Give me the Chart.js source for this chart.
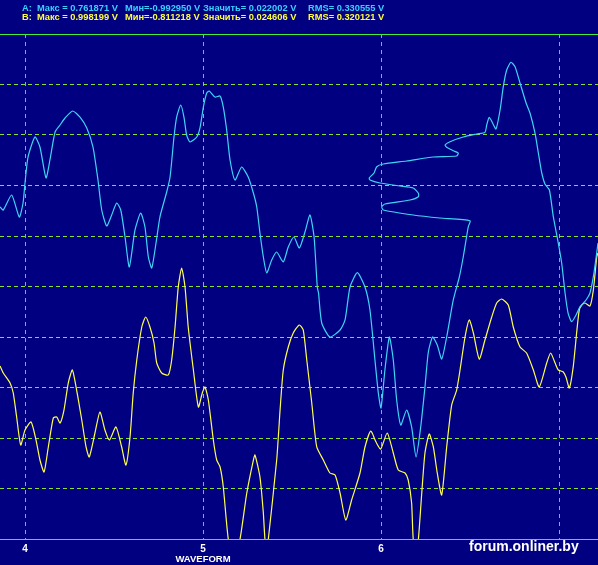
<!DOCTYPE html>
<html><head><meta charset="utf-8">
<script src="https://cdn.jsdelivr.net/npm/chart.js@4"></script>
<style>html,body{margin:0;padding:0;background:#000080;overflow:hidden}#wrap{width:598px;height:565px;position:relative}</style>
</head><body><div id="wrap"><canvas id="c"></canvas></div>
<script>
// ---- data ----
const xTickValues = [4, 5, 6, 7];
const xTickLabels = ['4', '5', '6', ''];
const headerA = ['A:', 'Макс = 0.761871 V', 'Мин=-0.992950 V', 'Значить= 0.022002 V', 'RMS= 0.330555 V'];
const headerB = ['B:', 'Макс = 0.998199 V', 'Мин=-0.811218 V', 'Значить= 0.024606 V', 'RMS= 0.320121 V'];
const axisName = 'WAVEFORM';
const watermark = 'forum.onliner.by';

// channel A (time, divisions)
const seriesAX = [3.860,3.878,3.925,3.968,3.989,4.000,4.017,4.056,4.084,4.118,4.140,4.169,4.197,4.225,4.268,4.309,4.347,4.382,4.410,4.431,
4.459,4.487,4.515,4.538,4.562,4.586,4.618,4.650,4.674,4.693,4.712,4.736,4.758,4.796,4.815,4.837,4.852,4.875,4.893,4.908,
4.927,4.965,4.983,5.002,5.021,5.035,5.067,5.096,5.114,5.133,5.152,5.180,5.217,5.254,5.283,5.302,5.320,5.339,5.358,5.386,
5.414,5.451,5.479,5.511,5.541,5.573,5.601,5.624,5.642,5.649,5.667,5.713,5.770,5.798,5.826,5.867,5.910,5.938,5.966,5.985,
6.000,6.022,6.047,6.069,6.088,6.111,6.144,6.172,6.197,6.223,6.247,6.266,6.290,6.316,6.341,6.369,6.406,6.440,6.462,6.490,
6.500,6.331,6.181,6.013,6.004,6.022,6.163,6.210,6.210,6.181,6.107,5.994,5.938,5.934,5.961,5.976,6.013,6.144,6.294,6.425,
6.434,6.406,6.369,6.360,6.388,6.462,6.538,6.584,6.594,6.608,6.627,6.646,6.669,6.687,6.706,6.730,6.753,6.781,6.815,6.837,
6.865,6.884,6.903,6.921,6.946,6.968,6.996,7.015,7.034,7.051,7.071,7.096,7.118,7.152,7.174,7.193,7.208,7.219];
const seriesAY = [1.574,1.515,1.812,1.376,1.653,2.050,2.564,2.960,2.762,2.149,2.505,3.059,3.198,3.337,3.475,3.356,3.139,2.762,2.109,1.515,
1.198,1.416,1.653,1.515,0.980,0.386,1.119,1.455,1.178,0.584,0.366,0.861,1.376,1.871,2.168,2.960,3.356,3.594,3.356,3.000,
2.861,2.960,3.139,3.554,3.832,3.871,3.752,3.772,3.554,3.099,2.505,2.109,2.366,2.168,1.851,1.574,1.059,0.584,0.267,0.525,
0.683,0.485,0.782,0.980,0.762,1.079,1.416,0.980,-0.010,-0.129,-0.723,-1.000,-0.861,-0.663,-0.010,0.273,-0.010,-0.465,-1.455,-2.109,
-2.406,-1.653,-1.000,-1.455,-2.248,-2.743,-2.446,-2.782,-3.376,-2.782,-1.990,-1.297,-1.000,-1.158,-1.436,-1.000,-0.267,0.188,0.584,1.178,
1.303,1.356,1.416,1.515,1.580,1.634,1.713,1.778,1.846,1.950,1.990,2.050,2.109,2.149,2.248,2.372,2.426,2.485,2.564,2.584,
2.644,2.689,2.756,2.802,2.867,2.960,3.020,3.053,3.198,3.350,3.238,3.119,3.495,3.956,4.287,4.440,4.352,4.030,3.634,3.436,
3.040,2.644,2.248,2.030,1.911,1.382,0.861,0.465,-0.129,-0.525,-0.697,-0.564,-0.400,-0.267,-0.129,0.194,0.564,0.861];

// channel B (time, divisions)
const seriesBX = [3.860,3.878,3.916,3.934,3.953,3.976,4.000,4.034,4.062,4.084,4.107,4.131,4.159,4.178,4.197,4.219,4.243,4.266,4.290,4.319,
4.343,4.361,4.393,4.421,4.449,4.474,4.511,4.543,4.567,4.590,4.608,4.628,4.656,4.678,4.702,4.725,4.740,4.768,4.805,4.824,
4.843,4.861,4.880,4.899,4.917,4.946,4.974,4.996,5.011,5.030,5.058,5.077,5.096,5.114,5.142,5.174,5.208,5.246,5.283,5.292,
5.320,5.339,5.348,5.358,5.367,5.414,5.433,5.451,5.479,5.507,5.541,5.563,5.583,5.611,5.639,5.676,5.713,5.742,5.770,5.802,
5.835,5.882,5.910,5.942,5.972,5.998,6.035,6.069,6.097,6.135,6.153,6.172,6.181,6.197,6.210,6.229,6.247,6.271,6.294,6.316,
6.341,6.369,6.397,6.425,6.444,6.472,6.496,6.519,6.552,6.584,6.622,6.650,6.678,6.715,6.743,6.781,6.818,6.856,6.889,6.931,
6.953,6.978,6.996,7.024,7.039,7.058,7.080,7.099,7.114,7.129,7.146,7.174,7.193,7.212,7.219];
const seriesBY = [-1.574,-1.713,-1.911,-2.109,-2.584,-3.139,-2.842,-2.683,-3.040,-3.436,-3.673,-3.178,-2.604,-2.584,-2.703,-2.446,-1.911,-1.653,-2.050,-2.644,
-3.178,-3.376,-2.901,-2.485,-2.842,-3.040,-2.782,-3.178,-3.535,-2.980,-2.109,-1.455,-0.802,-0.604,-0.802,-1.119,-1.515,-1.713,-1.752,-1.455,
-0.802,-0.010,0.366,-0.010,-0.802,-1.653,-2.386,-2.109,-1.990,-2.248,-3.040,-3.436,-3.574,-3.970,-5.000,-5.416,-5.000,-4.089,-3.436,-3.337,
-3.772,-4.485,-5.000,-5.178,-5.000,-3.436,-2.446,-1.653,-1.198,-0.921,-0.762,-0.861,-1.455,-2.307,-3.178,-3.436,-3.693,-3.733,-4.089,-4.624,
-4.228,-3.693,-3.178,-2.861,-3.079,-3.218,-2.901,-3.297,-3.634,-3.693,-3.832,-4.287,-5.000,-5.218,-5.000,-4.089,-3.297,-2.921,-3.178,-3.693,
-4.129,-3.178,-2.347,-2.050,-1.653,-1.000,-0.663,-0.921,-1.436,-1.059,-0.604,-0.327,-0.248,-0.366,-0.802,-1.198,-1.317,-1.653,-1.990,-1.515,
-1.317,-1.515,-1.653,-1.693,-1.792,-2.010,-1.588,-0.921,-0.465,-0.366,-0.327,-0.386,-0.069,0.584,0.663];

const xMin = 4 - 25 / 178, xMax = 4 + 573 / 178;
const yMin = -5, yMax = 5;

const toPts = (xs, ys) => xs.map((x, i) => ({x, y: ys[i]}));

const BG = '#000080';
const GRID_H = '#86e03a';
const GRID_V = '#4fe03a';
const EDGE = '#3cf03c';

const overlay = {
  id: 'overlay',
  beforeDraw(chart) {
    const c = chart.ctx;
    c.save(); c.fillStyle = BG; c.fillRect(0, 0, chart.width, chart.height); c.restore();
  },
  afterDraw(chart) {
    const c = chart.ctx;
    c.save();
    c.textBaseline = 'alphabetic';
    c.font = 'bold 9.3px "Liberation Sans", Arial, sans-serif';
    const xs = [22, 37, 125, 203, 308];
    c.fillStyle = '#38d0ff';
    headerA.forEach((t, i) => c.fillText(t, xs[i], 10.5));
    c.fillStyle = '#ffff40';
    headerB.forEach((t, i) => c.fillText(t, xs[i], 19.5));
    c.fillStyle = '#ffffff';
    c.font = 'bold 9.5px "Liberation Sans", Arial, sans-serif';
    c.textAlign = 'center';
    c.fillText(axisName, 203, 562);
    c.textAlign = 'left';
    c.font = 'bold 14px "Liberation Sans", Arial, sans-serif';
    c.fillText(watermark, 469, 551);
    c.restore();
  }
};

new Chart(document.getElementById('c'), {
  type: 'line',
  data: {
    datasets: [
      {label: 'A', data: toPts(seriesAX, seriesAY), borderColor: '#40d4f4', borderWidth: 1.2, pointRadius: 0, tension: 0.2, fill: false},
      {label: 'B', data: toPts(seriesBX, seriesBY), borderColor: '#ffff50', borderWidth: 1.2, pointRadius: 0, tension: 0.2, fill: false}
    ]
  },
  options: {
    responsive: true, maintainAspectRatio: false, animation: false,
    layout: {padding: {top: 34, left: 0, right: 0, bottom: 6}},
    plugins: {legend: {display: false}, tooltip: {enabled: false}, title: {display: false}},
    scales: {
      x: {
        type: 'linear', min: xMin, max: xMax,
        afterBuildTicks: s => { s.ticks = xTickValues.map(v => ({value: v})); },
        ticks: {color: '#ffffff', font: {family: '"Liberation Sans", Arial, sans-serif', size: 10, weight: 'bold'}, padding: 4, maxRotation: 0, autoSkip: false,
          callback: (v) => { const i = xTickValues.indexOf(v); return i >= 0 ? xTickLabels[i] : ''; }},
        grid: {color: GRID_V, lineWidth: 1, drawTicks: false},
        border: {display: false, dash: [4, 4]}
      },
      y: {
        type: 'linear', min: yMin, max: yMax,
        ticks: {display: false, stepSize: 1},
        grid: {drawTicks: false, lineWidth: 1,
          color: ctx => (ctx.tick && Math.abs(ctx.tick.value) === 5) ? EDGE : GRID_H},
        border: {display: false,
          dash: ctx => (ctx.tick && Math.abs(ctx.tick.value) === 5) ? [] : [4, 3]}
      }
    }
  },
  plugins: [overlay]
});
</script>
</body></html>
